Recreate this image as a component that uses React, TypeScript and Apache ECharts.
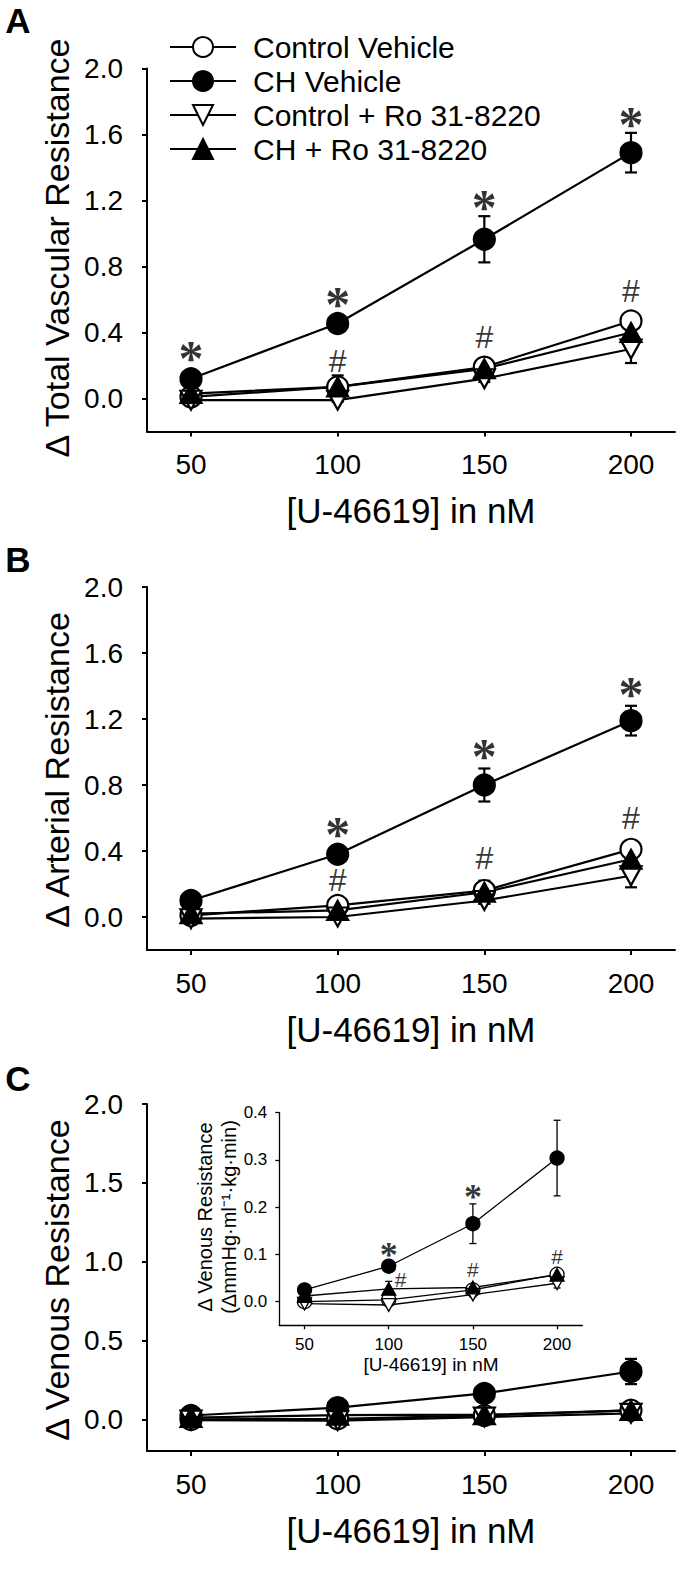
import React, { useEffect, useRef } from "react";
import * as echarts from "echarts";

// ---------------- data ----------------
const doses = [50, 100, 150, 200];
const groupNames = ["Control Vehicle", "CH Vehicle", "Control + Ro 31-8220", "CH + Ro 31-8220"];

// Panel A: Δ Total Vascular Resistance
const totalCtrlVeh = [0.01, 0.07, 0.19, 0.47];
const totalCtrlVehErr = [0.01, 0.03, 0.03, 0.03];
const totalCHVeh = [0.12, 0.455, 0.965, 1.49];
const totalCHVehErr = [0.03, 0.03, 0.14, 0.12];
const totalCtrlRo = [-0.01, -0.01, 0.12, 0.3];
const totalCtrlRoErr = [0.01, 0.01, 0.02, 0.085];
const totalCHRo = [0.03, 0.07, 0.18, 0.4];
const totalCHRoErr = [0.01, 0.07, 0.06, 0.03];
const totalStarX = [50, 100, 150, 200];
const totalStarY = [0.28, 0.61, 1.2, 1.7];
const totalHashX = [100, 150, 200];
const totalHashY = [0.23, 0.37, 0.65];

// Panel B: Δ Arterial Resistance
const artCtrlVeh = [0.01, 0.07, 0.16, 0.41];
const artCtrlVehErr = [0.01, 0.03, 0.03, 0.03];
const artCHVeh = [0.1, 0.38, 0.8, 1.19];
const artCHVehErr = [0.02, 0.02, 0.1, 0.09];
const artCtrlRo = [-0.01, 0.0, 0.1, 0.25];
const artCtrlRoErr = [0.01, 0.01, 0.02, 0.07];
const artCHRo = [0.02, 0.04, 0.15, 0.35];
const artCHRoErr = [0.01, 0.03, 0.07, 0.03];
const artStarX = [100, 150, 200];
const artStarY = [0.54, 1.01, 1.39];
const artHashX = [100, 150, 200];
const artHashY = [0.225, 0.355, 0.6];

// Panel C: Δ Venous Resistance (main + inset)
const venCtrlVeh = [0.0, 0.004, 0.025, 0.058];
const venCtrlVehErr = [0.003, 0.01, 0.005, 0.006];
const venCHVeh = [0.025, 0.075, 0.165, 0.304];
const venCHVehErr = [0.004, 0.012, 0.042, 0.08];
const venCtrlRo = [-0.004, -0.007, 0.015, 0.039];
const venCtrlRoErr = [0.003, 0.003, 0.005, 0.01];
const venCHRo = [0.012, 0.027, 0.03, 0.057];
const venCHRoErr = [0.003, 0.016, 0.005, 0.006];
const venStarX = [100, 150, 200];
const venStarY = [0.11, 0.232, 0.413];
const venHashX = [107, 150, 200];
const venHashY = [0.048, 0.069, 0.095];

const mainYTicks = [0, 0.4, 0.8, 1.2, 1.6, 2.0];
const venYTicks = [0, 0.5, 1.0, 1.5, 2.0];
const insetYTicks = [0, 0.1, 0.2, 0.3, 0.4];

const xTitle = "[U-46619] in nM";

// ---------------- styles ----------------
const SANS = "'Liberation Sans', Arial, sans-serif";
const NARROW = "'Liberation Sans Narrow', 'Arial Narrow', 'Liberation Sans', sans-serif";
const SERIF = "'Liberation Serif', 'Times New Roman', serif";

const TRI_DOWN = "path://M0,0 L20,0 L10,18 Z";
const TRI_UP = "path://M10,0 L20,18 L0,18 Z";

type Panel = {
  vals: number[][];
  errs: number[][];
  starX: number[];
  starY: number[];
  hashX: number[];
  hashY: number[];
};

type Sty = { size: number; lw: number; cap: number; star: number; hash: number; starOff: number; hashOff: number };

function buildSeries(gi: number, p: Panel, s: Sty) {
  const symbols = ["circle", "circle", TRI_DOWN, TRI_UP];
  const fills = ["#fff", "#000", "#fff", "#000"];
  const out: any[] = [];
  // error bars
  p.vals.forEach((v, k) => {
    out.push({
      type: "custom",
      name: "err" + gi + "_" + k,
      xAxisIndex: gi,
      yAxisIndex: gi,
      z: 1,
      silent: true,
      data: doses.map((d, i) => [d, v[i] - p.errs[k][i], v[i] + p.errs[k][i]]),
      renderItem: (params: any, api: any) => {
        const x = api.value(0);
        const hi = api.coord([x, api.value(2)]);
        const lo = api.coord([x, api.value(1)]);
        const st = { stroke: "#000", lineWidth: s.lw, fill: "none" };
        const c = s.cap / 2;
        return {
          type: "group",
          children: [
            { type: "line", shape: { x1: hi[0], y1: hi[1], x2: lo[0], y2: lo[1] }, style: st },
            { type: "line", shape: { x1: hi[0] - c, y1: hi[1], x2: hi[0] + c, y2: hi[1] }, style: st },
            { type: "line", shape: { x1: lo[0] - c, y1: lo[1], x2: lo[0] + c, y2: lo[1] }, style: st },
          ],
        };
      },
    });
  });
  // lines with markers
  p.vals.forEach((v, k) => {
    const tri = k >= 2;
    out.push({
      type: "line",
      name: groupNames[k],
      xAxisIndex: gi,
      yAxisIndex: gi,
      z: 2,
      data: doses.map((d, i) => [d, v[i]]),
      symbol: symbols[k],
      symbolSize: tri ? [s.size, s.size * 0.9] : s.size,
      showSymbol: true,
      lineStyle: { color: "#000", width: s.lw },
      itemStyle: { color: fills[k], borderColor: "#000", borderWidth: s.lw, opacity: 1 },
      emphasis: { disabled: true },
      silent: true,
    });
  });
  const ann = (xs: number[], ys: number[], txt: string, font: string, size: number, off: number, bold: boolean) => ({
    type: "scatter",
    name: "ann" + gi + txt,
    xAxisIndex: gi,
    yAxisIndex: gi,
    z: 5,
    silent: true,
    symbol: "circle",
    symbolSize: 1,
    itemStyle: { color: "rgba(0,0,0,0)" },
    data: xs.map((x, i) => ({ value: [x, ys[i]], name: txt })),
    label: {
      show: true,
      position: "inside",
      formatter: txt,
      fontFamily: font,
      fontSize: size,
      fontWeight: bold ? "bold" : "normal",
      color: "#000",
      offset: [0, off],
    },
  });
  if (p.starX.length) out.push(ann(p.starX, p.starY, "*", SERIF, s.star, s.starOff, true));
  if (p.hashX.length) out.push(ann(p.hashX, p.hashY, "#", SANS, s.hash, s.hashOff, false));
  return out;
}

function xAxisCfg(gi: number, fs: number, lw: number, tick: number, margin: number) {
  return {
    type: "value",
    gridIndex: gi,
    min: 35,
    max: 215,
    axisLine: { show: true, onZero: false, lineStyle: { color: "#000", width: lw } },
    axisTick: { show: true, inside: false, length: tick, customValues: doses, lineStyle: { color: "#000", width: lw } },
    axisLabel: { show: true, customValues: doses, fontFamily: fs > 20 ? NARROW : SANS, fontSize: fs, color: "#000", margin },
    splitLine: { show: false },
  };
}

function yAxisCfg(gi: number, min: number, max: number, ticks: number[], fs: number, lw: number, tick: number, margin: number) {
  return {
    type: "value",
    gridIndex: gi,
    min,
    max,
    axisLine: { show: true, onZero: false, lineStyle: { color: "#000", width: lw } },
    axisTick: { show: true, inside: false, length: tick, customValues: ticks, lineStyle: { color: "#000", width: lw } },
    axisLabel: {
      show: true,
      customValues: ticks,
      formatter: (v: number) => v.toFixed(1),
      fontFamily: fs > 20 ? NARROW : SANS,
      fontSize: fs,
      color: "#000",
      margin,
    },
    splitLine: { show: false },
  };
}

const txt = (x: number, y: number, text: string, size: number, opts: any = {}) => ({
  type: "text",
  x,
  y,
  rotation: opts.rot || 0,
  silent: true,
  style: {
    text,
    fontFamily: opts.font || SANS,
    fontSize: size,
    fontWeight: opts.bold ? "bold" : "normal",
    fill: "#000",
    align: "center",
    verticalAlign: "middle",
  },
});

export default function App() {
  const ref = useRef<HTMLDivElement>(null);
  useEffect(() => {
    if (!ref.current) return;
    const chart = echarts.init(ref.current, undefined, { renderer: "svg" });
    const mainStyle: Sty = { size: 21, lw: 2.2, cap: 12, star: 50, hash: 32, starOff: 6, hashOff: 0 };
    const insetStyle: Sty = { size: 14, lw: 1.3, cap: 7, star: 36, hash: 21, starOff: 5, hashOff: 0 };
    const pA: Panel = {
      vals: [totalCtrlVeh, totalCHVeh, totalCtrlRo, totalCHRo],
      errs: [totalCtrlVehErr, totalCHVehErr, totalCtrlRoErr, totalCHRoErr],
      starX: totalStarX, starY: totalStarY, hashX: totalHashX, hashY: totalHashY,
    };
    const pB: Panel = {
      vals: [artCtrlVeh, artCHVeh, artCtrlRo, artCHRo],
      errs: [artCtrlVehErr, artCHVehErr, artCtrlRoErr, artCHRoErr],
      starX: artStarX, starY: artStarY, hashX: artHashX, hashY: artHashY,
    };
    const pC: Panel = {
      vals: [venCtrlVeh, venCHVeh, venCtrlRo, venCHRo],
      errs: [venCtrlVehErr, venCHVehErr, venCtrlRoErr, venCHRoErr],
      starX: [], starY: [], hashX: [], hashY: [],
    };
    const pInset: Panel = { ...pC, starX: venStarX, starY: venStarY, hashX: venHashX, hashY: venHashY };

    const option: any = {
      animation: false,
      backgroundColor: "#fff",
      grid: [
        { left: 147, top: 68.5, width: 528, height: 363 },
        { left: 147, top: 587, width: 528, height: 363 },
        { left: 147, top: 1104, width: 528, height: 347 },
        { left: 279.3, top: 1112.7, width: 303, height: 212.6 },
      ],
      xAxis: [
        xAxisCfg(0, 28, 2, 5, 19),
        xAxisCfg(1, 28, 2, 5, 19),
        xAxisCfg(2, 28, 2, 5, 19),
        xAxisCfg(3, 17, 1.3, 4, 11),
      ],
      yAxis: [
        yAxisCfg(0, -0.2, 2.0, mainYTicks, 28, 2, 5, 24),
        yAxisCfg(1, -0.2, 2.0, mainYTicks, 28, 2, 5, 24),
        yAxisCfg(2, -0.2, 2.0, venYTicks, 28, 2, 5, 24),
        yAxisCfg(3, -0.05, 0.4, insetYTicks, 17, 1.3, 4, 12),
      ],
      legend: {
        show: true,
        orient: "vertical",
        left: 169,
        top: 32,
        padding: 0,
        itemWidth: 66,
        itemHeight: 25,
        itemGap: 4,
        selectedMode: false,
        data: groupNames,
        textStyle: { fontFamily: SANS, fontSize: 30, color: "#000", padding: [0, 0, 0, 12] },
      },
      series: [
        ...buildSeries(0, pA, mainStyle),
        ...buildSeries(1, pB, mainStyle),
        ...buildSeries(2, pC, mainStyle),
        ...buildSeries(3, pInset, insetStyle),
      ],
      graphic: [
        txt(18, 20, "A", 35, { bold: true }),
        txt(18, 559, "B", 35, { bold: true }),
        txt(18, 1078, "C", 35, { bold: true }),
        txt(57, 248, "Δ Total Vascular Resistance", 34, { rot: Math.PI / 2 }),
        txt(57, 770, "Δ Arterial Resistance", 34, { rot: Math.PI / 2 }),
        txt(57, 1280, "Δ Venous Resistance", 34, { rot: Math.PI / 2 }),
        txt(411, 510, xTitle, 35),
        txt(411, 1029, xTitle, 35),
        txt(411, 1530, xTitle, 35),
        txt(205, 1217, "Δ Venous Resistance", 20, { rot: Math.PI / 2 }),
        txt(229, 1217, "(ΔmmHg·ml⁻¹·kg·min)", 20, { rot: Math.PI / 2 }),
        txt(431, 1364, xTitle, 19),
      ],
    };
    chart.setOption(option);
    return () => chart.dispose();
  }, []);
  return <div ref={ref} style={{ position: "absolute", left: 0, top: 0, width: 680, height: 1579 }} />;
}
